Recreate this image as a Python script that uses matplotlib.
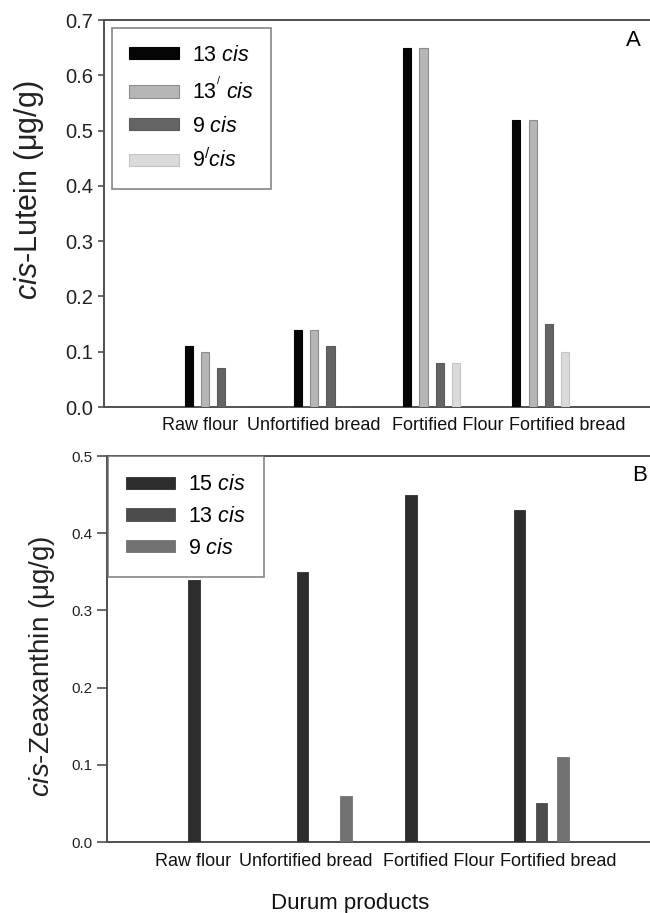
import numpy as np
import matplotlib
matplotlib.use("Agg")
import matplotlib.pyplot as plt

plt.rcParams['font.family'] = ['Liberation Sans', 'DejaVu Sans']
plt.rcParams['mathtext.fontset'] = 'custom'
plt.rcParams['mathtext.rm'] = 'Liberation Sans'
plt.rcParams['mathtext.it'] = 'Liberation Sans:italic'
plt.rcParams['mathtext.bf'] = 'Liberation Sans:bold'

# ---------------- data ----------------
categories = ["Raw flour", "Unfortified bread", "Fortified Flour", "Fortified bread"]

lutein_labels = ["13 $\\mathit{cis}$", "13$^{^{/}}$ $\\mathit{cis}$", "9 $\\mathit{cis}$", "9$^{/}$$\\mathit{cis}$"]
lutein_13cis = [0.11, 0.14, 0.65, 0.52]
lutein_13pcis = [0.10, 0.14, 0.65, 0.52]
lutein_9cis = [0.07, 0.11, 0.08, 0.15]
lutein_9pcis = [0.0, 0.0, 0.08, 0.10]
lutein_yticks = [0.0, 0.1, 0.2, 0.3, 0.4, 0.5, 0.6, 0.7]

zea_labels = ["15 $\\mathit{cis}$", "13 $\\mathit{cis}$", "9 $\\mathit{cis}$"]
zea_15cis = [0.34, 0.35, 0.45, 0.43]
zea_13cis = [0.0, 0.0, 0.0, 0.05]
zea_9cis = [0.0, 0.06, 0.0, 0.11]
zea_yticks = [0.0, 0.1, 0.2, 0.3, 0.4, 0.5]

# ---------------- styling ----------------
spine_col = '#505050'
lut_colors = ['#050505', '#b6b6b6', '#646464', '#dadada']
lut_edges = ['#050505', '#8c8c8c', '#5a5a5a', '#c4c4c4']
zea_colors = ['#2d2d2d', '#4c4c4c', '#727272']

fig = plt.figure(figsize=(6.5, 9.13), dpi=100)
axA = fig.add_axes([104/650, 1-407/913, 546/650, 387/913])
axB = fig.add_axes([107/650, 1-842/913, 543/650, 386/913])

x = np.arange(len(categories))

def style(ax, ylim, yticks, fs, ticklen):
    ax.set_xlim(-1, 4)
    ax.set_ylim(*ylim)
    ax.set_yticks(yticks)
    ax.set_yticklabels([f"{t:.1f}" for t in yticks], fontsize=fs, color='#222222')
    for s in ['left', 'bottom', 'top']:
        ax.spines[s].set_color(spine_col)
        ax.spines[s].set_linewidth(1.4)
    ax.spines['right'].set_visible(False)
    ax.tick_params(axis='y', direction='out', length=ticklen, width=1.2, color=spine_col)
    ax.tick_params(axis='x', length=0)

# Panel A
series_A = [lutein_13cis, lutein_13pcis, lutein_9cis, lutein_9pcis]
wA, stepA = 0.075, 0.15
for i, vals in enumerate(series_A):
    axA.bar(x + (i - 1.5) * stepA, vals, width=wA, color=lut_colors[i],
            edgecolor=lut_edges[i], linewidth=0.8, label=lutein_labels[i], zorder=3)
style(axA, (0, 0.7), lutein_yticks, 14.5, 4)
offsA = np.array([-0.12, -0.08, 0.15, 0.24])
axA.set_xticks(x + offsA)
axA.set_xticklabels(categories, fontsize=13, color='#111111')
axA.tick_params(axis='x', pad=7)
axA.set_ylabel("$\\mathit{cis}$-Lutein (μg/g)", fontsize=22, color='#222222')
axA.yaxis.set_label_coords(-0.106, 0.561)
legA = axA.legend(loc='upper left', bbox_to_anchor=(8/546, 1 - 8/387), borderaxespad=0,
                  fontsize=15.5, frameon=True, fancybox=False, handlelength=2.35,
                  handleheight=0.5, handletextpad=0.6, labelspacing=0.55,
                  borderpad=0.78)
legA.get_frame().set_edgecolor('#666666')
legA.get_frame().set_linewidth(1.2)
axA.text(633, 913 - 40, "A", transform=None, fontsize=16, ha='center', va='center')

# Panel B
series_B = [zea_15cis, zea_13cis, zea_9cis]
wB, stepB = 0.105, 0.2
for i, vals in enumerate(series_B):
    axB.bar(x + (i - 1) * stepB, vals, width=wB, color=zea_colors[i],
            edgecolor=zea_colors[i], linewidth=0.6, label=zea_labels[i], zorder=3)
style(axB, (0, 0.5), zea_yticks, 11, 7)
offsB = np.array([-0.21, -0.17, 0.055, 0.157])
axB.set_xticks(x + offsB)
axB.set_xticklabels(categories, fontsize=13, color='#111111')
axB.tick_params(axis='x', pad=8)
axB.set_ylabel("$\\mathit{cis}$-Zeaxanthin (μg/g)", fontsize=20, color='#222222')
axB.yaxis.set_label_coords(-0.092, 0.456)
legB = axB.legend(loc='upper left', bbox_to_anchor=(1/543, 1.0), borderaxespad=0,
                  fontsize=15.5, frameon=True, fancybox=False, handlelength=2.25,
                  handleheight=0.5, handletextpad=0.6, labelspacing=0.5,
                  borderpad=0.85)
legB.get_frame().set_edgecolor('#666666')
legB.get_frame().set_linewidth(1.2)
axB.text(640, 913 - 475, "B", transform=None, fontsize=16, ha='center', va='center')

fig.text(350/650, 1 - 903/913, "Durum products", fontsize=16, ha='center', va='center',
         color='#111111')

fig.savefig("out.png", dpi=100)
